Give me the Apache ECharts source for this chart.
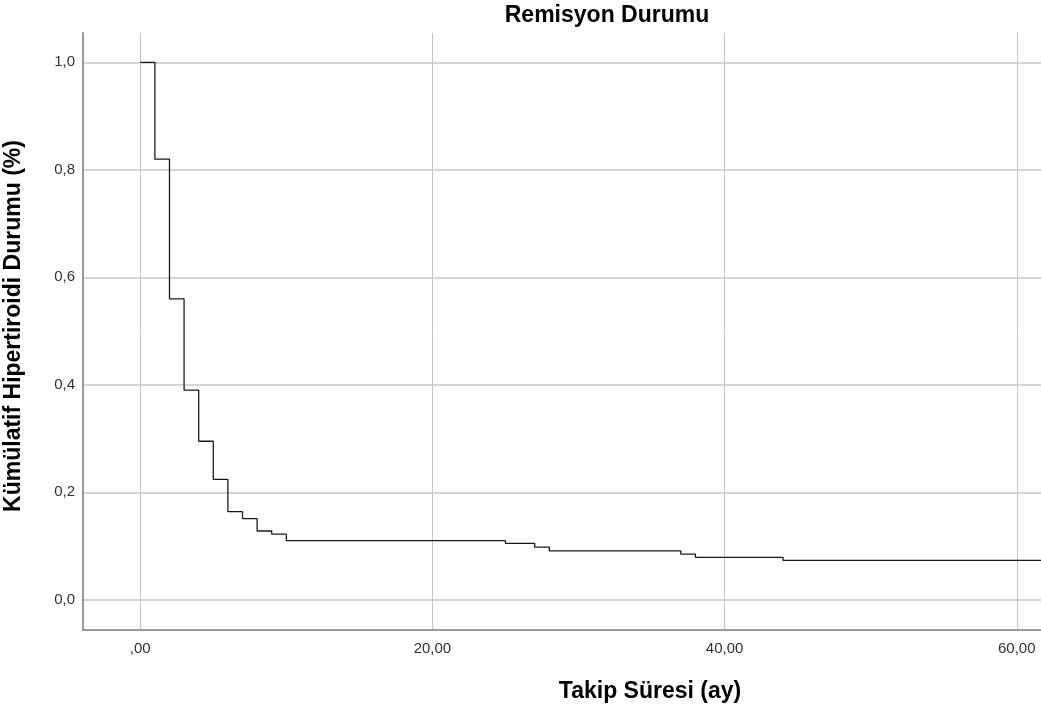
<!DOCTYPE html>
<html>
<head>
<meta charset="utf-8">
<script src="https://cdn.jsdelivr.net/npm/echarts@6/dist/echarts.min.js"></script>
<style>
html,body{margin:0;padding:0;background:#fff;}
#chart{width:1041px;height:709px;}
</style>
</head>
<body>
<div id="chart"></div>
<script>
// Data (Kaplan-Meier style step curve)
const times = [0, 1, 2, 3, 4, 5, 6, 7, 8, 9, 10, 25, 27, 28, 37, 38, 44, 62];
const survival = [1.0, 0.82, 0.56, 0.39, 0.295, 0.224, 0.164, 0.151, 0.128, 0.122, 0.110, 0.105, 0.098, 0.091, 0.085, 0.079, 0.0735, 0.0735];
const xTickValues = [0, 20, 40, 60];
const xTickLabels = [',00', '20,00', '40,00', '60,00'];
const yTickValues = [0, 0.2, 0.4, 0.6, 0.8, 1.0];
const yTickLabels = ['0,0', '0,2', '0,4', '0,6', '0,8', '1,0'];
const chartTitle = 'Remisyon Durumu';
const xTitle = 'Takip Süresi (ay)';
const yTitle = 'Kümülatif Hipertiroidi Durumu (%)';

const FONT = '"Liberation Sans", Arial, sans-serif';
const points = times.map((t, i) => [t, survival[i]]);

function labelFor(values, labels) {
  return function (v) {
    for (let i = 0; i < values.length; i++) {
      if (Math.abs(values[i] - v) < 1e-6) return labels[i];
    }
    return '';
  };
}

const chart = echarts.init(document.getElementById('chart'), null, {renderer: 'canvas'});
chart.setOption({
  backgroundColor: '#ffffff',
  animation: false,
  grid: {left: 83, right: 0, top: 33, bottom: 79, containLabel: false},
  xAxis: {
    type: 'value',
    min: -3.92,
    max: 61.66,
    axisLine: {show: true, onZero: false, lineStyle: {color: '#9a9a9a', width: 2}},
    axisTick: {show: false, customValues: xTickValues},
    axisLabel: {
      customValues: xTickValues,
      formatter: labelFor(xTickValues, xTickLabels),
      color: '#333333', fontSize: 15, fontFamily: FONT, margin: 11
    },
    splitLine: {show: true, lineStyle: {color: '#c4c4c4', width: 1}}
  },
  yAxis: {
    type: 'value',
    min: -0.0562,
    max: 1.0545,
    axisLine: {show: true, onZero: false, lineStyle: {color: '#9a9a9a', width: 2}},
    axisTick: {show: false, customValues: yTickValues},
    axisLabel: {
      customValues: yTickValues,
      formatter: labelFor(yTickValues, yTickLabels),
      color: '#333333', fontSize: 15, fontFamily: FONT, margin: 8
    },
    splitLine: {show: true, lineStyle: {color: '#d6d6d6', width: 2}}
  },
  graphic: [
    {type: 'text', x: 607, y: 16, style: {text: chartTitle, fill: '#000', font: 'bold 23px ' + FONT, textAlign: 'center', textVerticalAlign: 'middle'}},
    {type: 'text', x: 650, y: 692, style: {text: xTitle, fill: '#000', font: 'bold 23px ' + FONT, textAlign: 'center', textVerticalAlign: 'middle'}},
    {type: 'text', x: 14, y: 326, rotation: Math.PI / 2, style: {text: yTitle, fill: '#000', font: 'bold 23px ' + FONT, textAlign: 'center', textVerticalAlign: 'middle'}}
  ],
  series: [{
    type: 'line',
    data: points,
    step: 'end',
    symbol: 'none',
    clip: true,
    lineStyle: {color: '#1a1a1a', width: 1.3}
  }]
});
</script>
</body>
</html>
